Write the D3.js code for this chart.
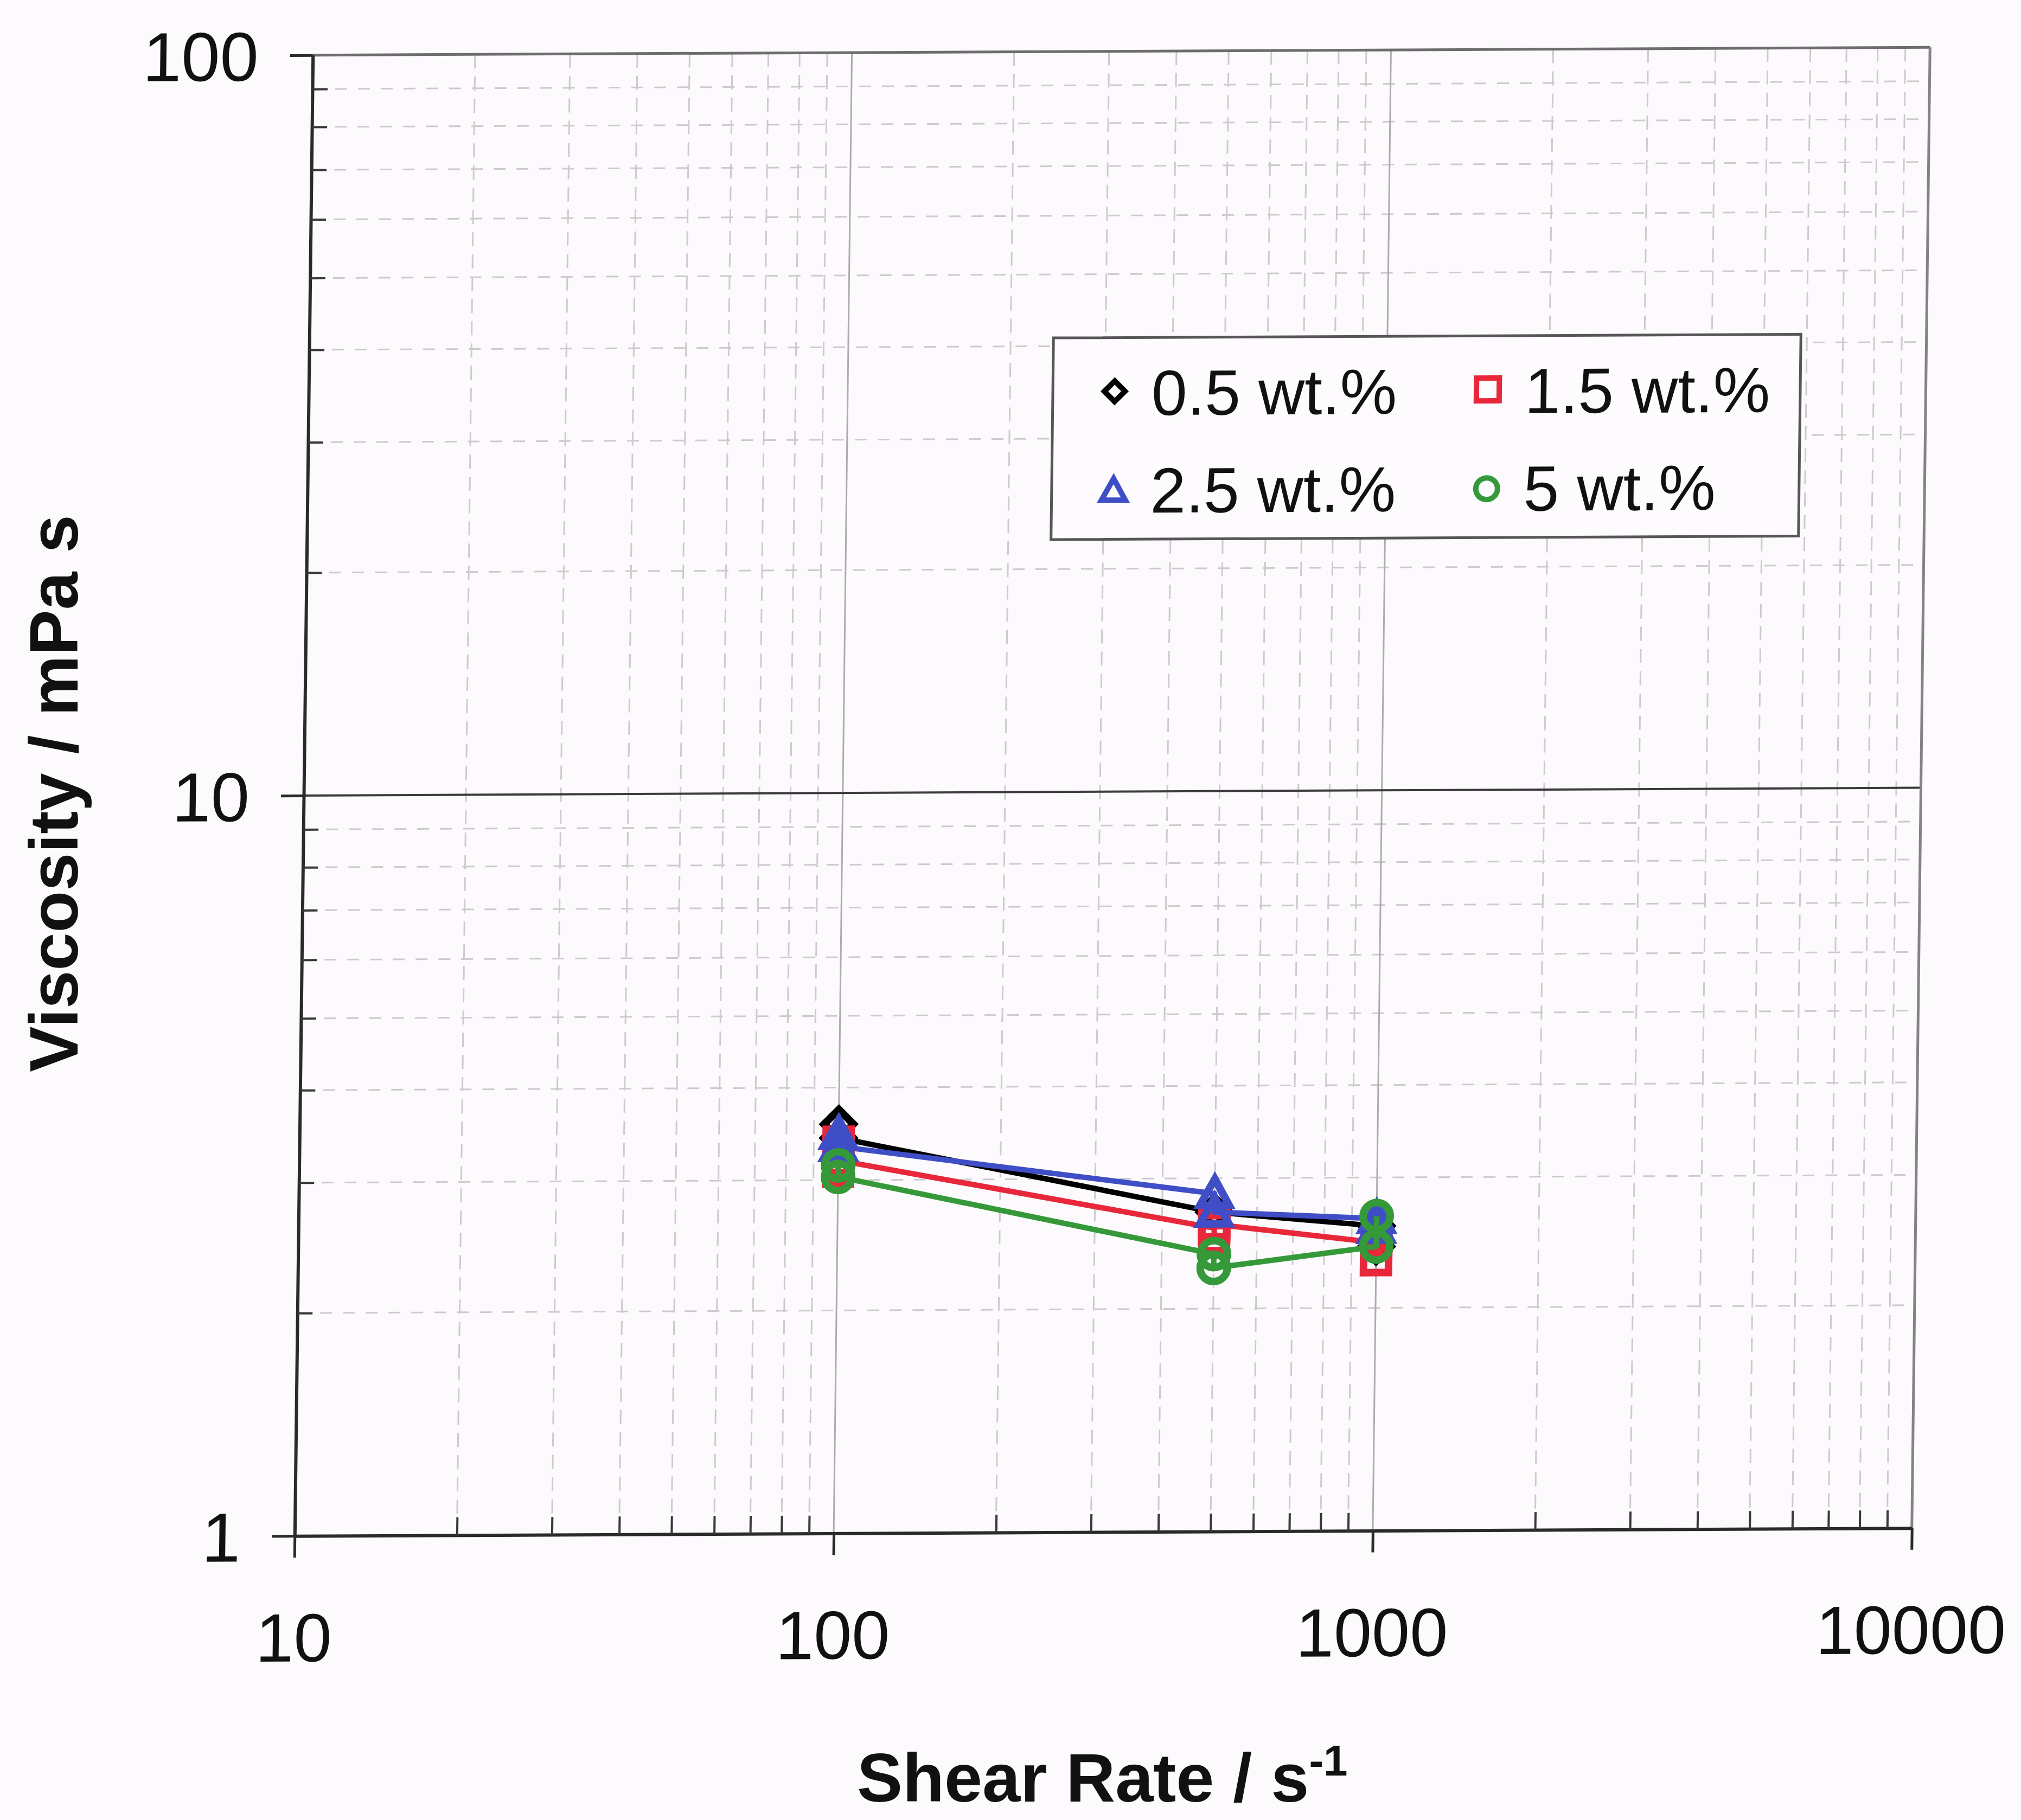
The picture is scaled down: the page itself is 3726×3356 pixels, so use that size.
<!DOCTYPE html>
<html>
<head>
<meta charset="utf-8">
<script src="https://cdn.jsdelivr.net/npm/d3@7"></script>
<style>
  html, body { margin: 0; padding: 0; background: #fcfafc; }
  svg { display: block; }
</style>
</head>
<body>
<svg id="chart" width="3726" height="3356"></svg>
<script>
// ---- data: viscosity (mPa s) against shear rate (1/s), repeated readings per rate ----
const seriesNames = ["0.5 wt.%", "1.5 wt.%", "2.5 wt.%", "5 wt.%"];

const shear05 = [100, 100, 500, 1000, 1000];
const visc05  = [3.57, 3.42, 2.70, 2.58, 2.42];

const shear15 = [100, 100, 100, 500, 500, 500, 1000, 1000];
const visc15  = [3.38, 3.08, 3.19, 2.57, 2.49, 2.60, 2.45, 2.32];

const shear25 = [100, 100, 500, 500, 1000, 1000];
const visc25  = [3.46, 3.33, 2.86, 2.70, 2.64, 2.56];

const shear5  = [100, 100, 500, 500, 1000, 1000];
const visc5   = [3.14, 3.03, 2.37, 2.27, 2.42, 2.66];

const xTickValues = [10, 100, 1000, 10000];
const yTickValues = [1, 10, 100];

// ---- appearance ----
const colors = ["#000000", "#e8283a", "#3f4ec6", "#35993a"];
const shapes = ["diamond", "square", "triangle", "circle"];
const FONT = "'Liberation Sans', Arial, Helvetica, sans-serif";

const W = 2981.5, H = 2730.5;

const x = d3.scaleLog().domain([10, 10000]).range([0, W]);
const y = d3.scaleLog().domain([1, 100]).range([H, 0]);

const svg = d3.select("#chart");
svg.append("rect").attr("width", 3726).attr("height", 3356).attr("fill", "#fcfafc");

// the printed plot frame sits very slightly sheared on the page
const plot = svg.append("g")
  .attr("transform", `matrix(1,${-14.5 / W},${-33.5 / H},1,576.75,101.75)`);

// minor positions straight from the log scales
const xMinor = x.ticks().filter(v => !xTickValues.includes(v));
const yMinor = y.ticks().filter(v => !yTickValues.includes(v));

// ---- grid ----
const grid = plot.append("g");
grid.selectAll("line.hminor").data(yMinor).join("line")
  .attr("x1", 0).attr("x2", W).attr("y1", d => y(d)).attr("y2", d => y(d))
  .attr("stroke", "#cdcacd").attr("stroke-width", 3).attr("stroke-dasharray", "22 20");
grid.selectAll("line.vminor").data(xMinor).join("line")
  .attr("y1", 0).attr("y2", H).attr("x1", d => x(d)).attr("x2", d => x(d))
  .attr("stroke", "#cdcacd").attr("stroke-width", 3).attr("stroke-dasharray", "26 15");
grid.selectAll("line.vmajor").data([100, 1000]).join("line")
  .attr("y1", 0).attr("y2", H).attr("x1", d => x(d)).attr("x2", d => x(d))
  .attr("stroke", "#aeabae").attr("stroke-width", 3);
grid.selectAll("line.hmajor").data([10]).join("line")
  .attr("x1", 0).attr("x2", W).attr("y1", d => y(d)).attr("y2", d => y(d))
  .attr("stroke", "#3c3a3c").attr("stroke-width", 4);

// frame: top and right edges
plot.append("line").attr("x1", 0).attr("x2", W).attr("y1", y(100)).attr("y2", y(100))
  .attr("stroke", "#6e6c6e").attr("stroke-width", 5);
plot.append("line").attr("x1", x(10000)).attr("x2", x(10000)).attr("y1", 0).attr("y2", H)
  .attr("stroke", "#858285").attr("stroke-width", 5);

// ---- axes ----
function styleAxis(g, tickWidth) {
  g.select(".domain").attr("stroke", "#2b2a2b").attr("stroke-width", 6);
  g.selectAll(".tick line").attr("stroke", "#2b2a2b").attr("stroke-width", tickWidth);
  g.selectAll(".tick text").attr("fill", "#111111").attr("font-family", FONT);
}

const yAxisG = plot.append("g")
  .call(d3.axisLeft(y).tickValues(yTickValues).tickSize(42).tickSizeOuter(0)
    .tickPadding(58).tickFormat(d3.format("d")));
styleAxis(yAxisG, 5);
yAxisG.selectAll(".tick text").attr("font-size", 128).attr("dy", "0.36em");

const yMinorG = plot.append("g")
  .call(d3.axisLeft(y).tickValues(yMinor).tickSize(-28).tickFormat(""));
yMinorG.select(".domain").remove();
yMinorG.selectAll(".tick line").attr("stroke", "#3a383a").attr("stroke-width", 4);

const xAxisG = plot.append("g").attr("transform", `translate(0,${H})`)
  .call(d3.axisBottom(x).tickValues(xTickValues).tickSize(40).tickSizeOuter(0)
    .tickPadding(102).tickFormat(d3.format("d")));
styleAxis(xAxisG, 5);
xAxisG.selectAll(".tick text").attr("font-size", 126);

const xMinorG = plot.append("g").attr("transform", `translate(0,${H})`)
  .call(d3.axisBottom(x).tickValues(xMinor).tickSize(-33).tickFormat(""));
xMinorG.select(".domain").remove();
xMinorG.selectAll(".tick line").attr("stroke", "#3a383a").attr("stroke-width", 4);

// ---- markers ----
function markerPath(shape, cx, cy, s) {
  if (shape === "diamond")
    return `M${cx},${cy - s}L${cx + s},${cy}L${cx},${cy + s}L${cx - s},${cy}Z`;
  if (shape === "square")
    return `M${cx - s},${cy - s}L${cx + s},${cy - s}L${cx + s},${cy + s}L${cx - s},${cy + s}Z`;
  return `M${cx},${cy - s}L${cx + s},${cy + s * 0.8}L${cx - s},${cy + s * 0.8}Z`;
}

function drawMarker(g, shape, cx, cy, size, color, sw) {
  if (shape === "circle") {
    g.append("circle").attr("cx", cx).attr("cy", cy).attr("r", size)
      .attr("fill", "none").attr("stroke", color).attr("stroke-width", sw);
  } else {
    g.append("path").attr("d", markerPath(shape, cx, cy, size))
      .attr("fill", "none").attr("stroke", color).attr("stroke-width", sw)
      .attr("stroke-linejoin", "miter");
  }
}

const dataSizes = { diamond: 27, square: 23, triangle: 27, circle: 25 };
const legendSizes = { diamond: 19, square: 21, triangle: 22, circle: 20 };

// ---- series ----
const series = [
  { shear: shear05, visc: visc05 },
  { shear: shear15, visc: visc15 },
  { shear: shear25, visc: visc25 },
  { shear: shear5,  visc: visc5  }
].map((s, i) => ({
  name: seriesNames[i], color: colors[i], shape: shapes[i],
  points: s.shear.map((r, j) => ({ rate: r, v: s.visc[j] }))
}));

const line = d3.line().x(d => x(d.rate)).y(d => y(d.v));

series.forEach(s => {
  const g = plot.append("g");
  g.append("path").datum(s.points).attr("d", line)
    .attr("fill", "none").attr("stroke", s.color).attr("stroke-width", 10)
    .attr("stroke-linejoin", "round");
  s.points.forEach(p => drawMarker(g, s.shape, x(p.rate), y(p.v), dataSizes[s.shape], s.color, 14));
});

// ---- legend ----
const lg = plot.append("g").attr("transform", "translate(1372,528)");
lg.append("rect").attr("width", 1378).attr("height", 372)
  .attr("fill", "#fdfbfd").attr("stroke", "#575557").attr("stroke-width", 5);
const legendCols = [0, 688];
series.forEach((s, i) => {
  const col = legendCols[i % 2];
  const rowMarker = i < 2 ? 99 : 282;
  const rowBase = i < 2 ? 143 : 323;
  drawMarker(lg, s.shape, 114 + col, rowMarker, legendSizes[s.shape], s.color, 10);
  lg.append("text").attr("x", 182 + col).attr("y", rowBase)
    .attr("font-family", FONT).attr("font-size", 118).attr("fill", "#111111")
    .text(s.name);
});

// ---- axis titles ----
const xt = svg.append("text").attr("x", 1580).attr("y", 3322)
  .attr("font-family", FONT).attr("font-size", 126).attr("font-weight", "bold")
  .attr("fill", "#111111");
xt.append("tspan").text("Shear Rate / s");
xt.append("tspan").attr("font-size", 80).attr("dy", -48).text("-1");

svg.append("text").attr("transform", "translate(143,1463) rotate(-90)")
  .attr("text-anchor", "middle")
  .attr("font-family", FONT).attr("font-size", 126).attr("font-weight", "bold")
  .attr("fill", "#111111").text("Viscosity / mPa s");
</script>
</body>
</html>
